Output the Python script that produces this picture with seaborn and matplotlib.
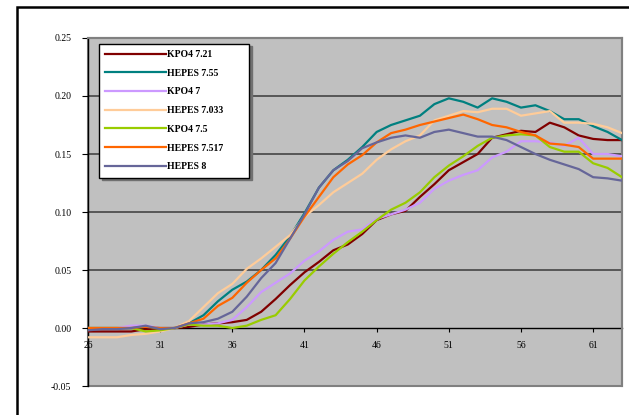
import matplotlib
matplotlib.use("Agg")
import matplotlib.pyplot as plt
from matplotlib.patches import Rectangle
import seaborn as sns
import pandas as pd

temps = list(range(26, 64))

series_names = ["KPO4 7.21", "HEPES 7.55", "KPO4 7", "HEPES 7.033",
                "KPO4 7.5", "HEPES 7.517", "HEPES 8"]

kpo4_721 = [-0.003, -0.003, -0.003, -0.003, -0.001, -0.001, 0.000, 0.001, 0.003, 0.004,
            0.005, 0.007, 0.014, 0.025, 0.037, 0.048, 0.057, 0.067, 0.072, 0.081,
            0.093, 0.098, 0.101, 0.113, 0.124, 0.136, 0.143, 0.150, 0.164, 0.167,
            0.170, 0.169, 0.177, 0.173, 0.166, 0.163, 0.162, 0.162]
hepes_755 = [0.000, 0.000, 0.000, 0.000, 0.001, 0.000, 0.000, 0.004, 0.011, 0.023,
             0.033, 0.040, 0.050, 0.063, 0.079, 0.099, 0.121, 0.136, 0.145, 0.156,
             0.169, 0.175, 0.179, 0.183, 0.193, 0.198, 0.195, 0.190, 0.198, 0.195,
             0.190, 0.192, 0.187, 0.180, 0.180, 0.174, 0.169, 0.162]
kpo4_7 = [0.000, 0.000, 0.000, 0.002, 0.002, 0.000, 0.000, 0.003, 0.003, 0.004,
          0.007, 0.018, 0.031, 0.039, 0.047, 0.058, 0.066, 0.076, 0.083, 0.085,
          0.094, 0.098, 0.102, 0.108, 0.120, 0.127, 0.132, 0.136, 0.147, 0.152,
          0.161, 0.161, 0.160, 0.157, 0.164, 0.150, 0.150, 0.148]
hepes_7033 = [-0.008, -0.008, -0.008, -0.006, -0.005, -0.003, 0.000, 0.006, 0.018, 0.030,
              0.038, 0.051, 0.060, 0.070, 0.080, 0.096, 0.106, 0.117, 0.125, 0.133,
              0.145, 0.154, 0.161, 0.166, 0.179, 0.183, 0.187, 0.186, 0.189, 0.189,
              0.183, 0.185, 0.187, 0.177, 0.177, 0.176, 0.173, 0.168]
kpo4_75 = [0.000, 0.000, 0.000, 0.000, -0.003, -0.002, 0.000, 0.003, 0.002, 0.002,
           0.000, 0.002, 0.007, 0.011, 0.025, 0.041, 0.053, 0.064, 0.074, 0.083,
           0.093, 0.102, 0.108, 0.117, 0.130, 0.140, 0.148, 0.157, 0.164, 0.166,
           0.167, 0.166, 0.156, 0.152, 0.152, 0.142, 0.138, 0.130]
hepes_7517 = [0.000, 0.000, 0.000, 0.000, 0.001, 0.000, 0.000, 0.004, 0.008, 0.019,
              0.026, 0.039, 0.050, 0.060, 0.077, 0.096, 0.113, 0.130, 0.141, 0.149,
              0.160, 0.168, 0.171, 0.175, 0.178, 0.181, 0.184, 0.180, 0.175, 0.173,
              0.169, 0.166, 0.159, 0.158, 0.156, 0.146, 0.146, 0.146]
hepes_8 = [-0.002, -0.001, -0.001, 0.000, 0.002, -0.001, 0.000, 0.004, 0.005, 0.008,
           0.014, 0.027, 0.043, 0.056, 0.077, 0.098, 0.121, 0.136, 0.144, 0.155,
           0.160, 0.164, 0.166, 0.164, 0.169, 0.171, 0.168, 0.165, 0.165, 0.162,
           0.156, 0.150, 0.145, 0.141, 0.137, 0.130, 0.129, 0.127]

colors = ["#800000", "#008080", "#cc99ff", "#ffcc99", "#99cc00", "#ff6600", "#666699"]

yticks = [-0.05, 0.00, 0.05, 0.10, 0.15, 0.20, 0.25]
ytick_labels = ["-0.05", "0.00", "0.05", "0.10", "0.15", "0.20", "0.25"]
xticks = [26, 31, 36, 41, 46, 51, 56, 61]
xtick_labels = ["26", "31", "36", "41", "46", "51", "56", "61"]

all_vals = [kpo4_721, hepes_755, kpo4_7, hepes_7033, kpo4_75, hepes_7517, hepes_8]
frames = []
for name, vals in zip(series_names, all_vals):
    frames.append(pd.DataFrame({"temp": temps, "value": vals, "series": name}))
df = pd.concat(frames, ignore_index=True)

fig = plt.figure(figsize=(6.29, 4.15), dpi=100)
fig.patch.set_facecolor("white")
ax = fig.add_axes([88 / 629, 1 - 386 / 415, (622 - 88) / 629, (386 - 38) / 415])
ax.set_facecolor("#c0c0c0")

sns.lineplot(data=df, x="temp", y="value", hue="series", hue_order=series_names,
             palette=dict(zip(series_names, colors)), linewidth=1.6, ax=ax,
             legend=False, zorder=3)
series_lines = list(ax.lines[:len(series_names)])

for g in [0.05, 0.10, 0.15, 0.20]:
    ax.axhline(g, color="#3a3a3a", linewidth=1.1, zorder=1)

ax.set_xlim(26, 63)
ax.set_ylim(-0.05, 0.25)
ax.set_xticks(xticks)
ax.set_xticklabels(xtick_labels)
ax.set_yticks(yticks)
ax.set_yticklabels(ytick_labels)
ax.set_xlabel("")
ax.set_ylabel("")

ax.spines["bottom"].set_position(("data", 0))
ax.spines["bottom"].set_color("black")
ax.spines["bottom"].set_linewidth(1.0)
ax.spines["bottom"].set_zorder(2)
ax.spines["left"].set_color("black")
ax.spines["left"].set_linewidth(1.0)
for s in ["top", "right"]:
    ax.spines[s].set_color("#808080")
    ax.spines[s].set_linewidth(1.5)
ax.add_patch(Rectangle((0, 0), 1, 1, transform=ax.transAxes, fill=False,
                       edgecolor="#808080", linewidth=1.5, zorder=0.5, clip_on=False))

ax.tick_params(axis="x", direction="out", length=3, width=0.8, pad=6, colors="black")
ax.tick_params(axis="y", direction="out", length=4, width=0.8, pad=8, colors="black")
for lab in ax.get_xticklabels() + ax.get_yticklabels():
    lab.set_fontfamily("Liberation Serif")
    lab.set_fontsize(7)

leg = ax.legend(series_lines, series_names,
                loc="upper left",
                bbox_to_anchor=(99 / 629, 1 - 44 / 415, (249 - 99) / 629, 0.001),
                bbox_transform=fig.transFigure,
                mode="expand",
                prop={"family": "Liberation Serif", "size": 7, "weight": "bold"},
                frameon=True, fancybox=False, framealpha=1,
                edgecolor="black", facecolor="white",
                shadow={"color": "#707070", "alpha": 1},
                handlelength=6.2, handletextpad=0.15,
                labelspacing=1.0, borderpad=0.65, borderaxespad=0)
leg.get_frame().set_linewidth(1.0)
leg.set_zorder(5)

fig.add_artist(Rectangle((17 / 629, -0.1), 2.0, (1 - 7 / 415) + 0.1,
                         transform=fig.transFigure, fill=False,
                         edgecolor="black", linewidth=1.8))

fig.savefig("out.png", dpi=100)
